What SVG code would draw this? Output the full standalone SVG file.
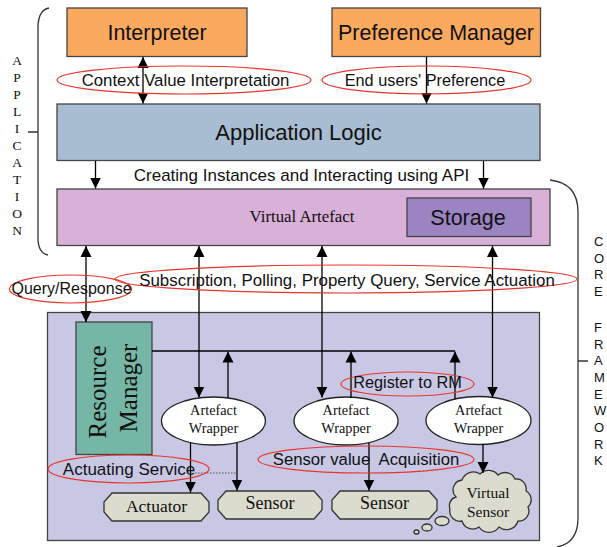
<svg xmlns="http://www.w3.org/2000/svg" width="607" height="547" viewBox="0 0 607 547">
<defs>
<marker id="ah" viewBox="0 0 12 12" refX="12" refY="6" markerWidth="11" markerHeight="12" markerUnits="userSpaceOnUse" orient="auto-start-reverse"><path d="M0,0 L12,6 L0,12 z" fill="#000"/></marker>
<style>
.box{stroke:#444;stroke-width:1.3}
.sans{font-family:"Liberation Sans",Arial,sans-serif;fill:#111}
.serif{font-family:"Liberation Serif","Times New Roman",serif;fill:#111}
.lbl{fill:none;stroke:#E8352B;stroke-width:1.2}
.ln{stroke:#000;stroke-width:1.3;fill:none}
.arr{stroke:#000;stroke-width:1.3;fill:none;marker-end:url(#ah)}
.arr2{stroke:#000;stroke-width:1.3;fill:none;marker-end:url(#ah);marker-start:url(#ah)}
.brace{stroke:#333;stroke-width:1.3;fill:none}
.chip{fill:#DCDCCE;stroke:#333;stroke-width:1.3}
</style>
</defs>
<rect width="607" height="547" fill="#fff"/>

<g id="application-brace">
<path class="brace" d="M49 8 Q38 10 38 28 L38 238 Q38 253 48 255 M28 132 L38 132"/>
<g class="serif" font-size="13.5" text-anchor="middle">
<text x="17" y="65">A</text><text x="17" y="82">P</text><text x="17" y="99">P</text><text x="17" y="116">L</text><text x="17" y="133">I</text><text x="17" y="150">C</text><text x="17" y="167">A</text><text x="17" y="184">T</text><text x="17" y="201">I</text><text x="17" y="218">O</text><text x="17" y="235">N</text>
</g>
</g>

<g id="core-framework-brace">
<path class="brace" d="M550 180 Q578 183 578 212 L578 518 Q578 543 557 547 M578 361 L588 361"/>
<g class="sans" font-size="13">
<text x="594" y="246">C</text><text x="594" y="263">O</text><text x="594" y="279">R</text><text x="594" y="296">E</text>
<text x="594" y="332">F</text><text x="594" y="349">R</text><text x="594" y="365">A</text><text x="594" y="382">M</text><text x="594" y="399">E</text><text x="594" y="415">W</text><text x="594" y="432">O</text><text x="594" y="449">R</text><text x="594" y="465">K</text>
</g>
</g>

<g id="lower-layer">
<rect class="box" x="47.5" y="312.5" width="492" height="228" fill="#C8C8E5"/>
</g>

<g id="interpreter">
<rect class="box" x="67" y="8" width="180" height="48.5" fill="#FAAA5F"/>
<text class="sans" x="157" y="40" font-size="21.5" text-anchor="middle">Interpreter</text>
</g>
<g id="preference-manager">
<rect class="box" x="332" y="8" width="208.5" height="48.5" fill="#FAAA5F"/>
<text class="sans" x="436" y="40" font-size="21.5" text-anchor="middle">Preference Manager</text>
</g>
<g id="application-logic">
<rect class="box" x="57" y="104" width="483" height="56.5" fill="#A9BDD2"/>
<text class="sans" x="298.5" y="140" font-size="22" text-anchor="middle">Application Logic</text>
</g>
<g id="virtual-artefact">
<rect class="box" x="57" y="189" width="493" height="56.5" fill="#D8B0D8"/>
<text class="serif" x="302" y="222" font-size="16.8" text-anchor="middle">Virtual Artefact</text>
</g>
<g id="storage">
<rect class="box" x="407" y="198" width="124" height="38.5" fill="#9C83C2"/>
<text class="sans" x="468" y="225" font-size="21.5" text-anchor="middle">Storage</text>
</g>
<g id="resource-manager">
<rect class="box" x="76" y="322" width="76" height="132.5" fill="#76B6A6"/>
<text class="serif" font-size="25" text-anchor="middle" transform="translate(106 392) rotate(-90)">Resource</text>
<text class="serif" font-size="25" text-anchor="middle" transform="translate(137 388) rotate(-90)">Manager</text>
</g>
<g id="artefact-wrapper-1">
<ellipse cx="213.5" cy="421" rx="52" ry="24" fill="#fff" stroke="#222" stroke-width="1.3"/>
<text class="serif" x="213.5" y="415" font-size="14.3" text-anchor="middle">Artefact</text>
<text class="serif" x="213.5" y="433" font-size="14.3" text-anchor="middle">Wrapper</text>
</g>
<g id="artefact-wrapper-2">
<ellipse cx="346" cy="421" rx="52" ry="24" fill="#fff" stroke="#222" stroke-width="1.3"/>
<text class="serif" x="346" y="415" font-size="14.3" text-anchor="middle">Artefact</text>
<text class="serif" x="346" y="433" font-size="14.3" text-anchor="middle">Wrapper</text>
</g>
<g id="artefact-wrapper-3">
<ellipse cx="478.5" cy="420.5" rx="52.5" ry="24" fill="#fff" stroke="#222" stroke-width="1.3"/>
<text class="serif" x="478.5" y="415" font-size="14.3" text-anchor="middle">Artefact</text>
<text class="serif" x="478.5" y="433" font-size="14.3" text-anchor="middle">Wrapper</text>
</g>
<g id="actuator">
<polygon class="chip" points="112,493 201,493 209,502 209,512 201,521 112,521 104,512 104,502"/>
<text class="serif" x="156.5" y="512" font-size="17.5" text-anchor="middle">Actuator</text>
</g>
<g id="sensor-1">
<polygon class="chip" points="226,491 314,491 322,500 322,510 314,519 226,519 218,510 218,500"/>
<text class="serif" x="270" y="509" font-size="18" text-anchor="middle">Sensor</text>
</g>
<g id="sensor-2">
<polygon class="chip" points="340,491 429,491 437,500 437,510 429,519 340,519 332,510 332,500"/>
<text class="serif" x="384.5" y="509" font-size="18" text-anchor="middle">Sensor</text>
</g>
<g id="virtual-sensor">
<path class="chip" d="M456 497 a10 10 0 0 1 6 -17 a12 12 0 0 1 18 -6 a12 12 0 0 1 18 1 a11 11 0 0 1 17 4 a10 10 0 0 1 11 12 a10 10 0 0 1 2 16 a10 10 0 0 1 -10 14 a12 12 0 0 1 -19 6 a12 12 0 0 1 -20 0 a11 11 0 0 1 -17 -6 a10 10 0 0 1 -12 -12 a9 9 0 0 1 6 -12 z"/>
<ellipse class="chip" cx="442" cy="521" rx="7" ry="4.5"/>
<ellipse class="chip" cx="427" cy="527.5" rx="5" ry="3.5"/>
<ellipse class="chip" cx="416.5" cy="532" rx="2.5" ry="2" stroke-width="1"/>
<text class="serif" x="488" y="498" font-size="15.5" text-anchor="middle">Virtual</text>
<text class="serif" x="488" y="517" font-size="15.5" text-anchor="middle">Sensor</text>
</g>

<g id="connectors">
<line class="arr2" x1="143" y1="57" x2="143" y2="103.5"/>
<line class="arr" x1="426.5" y1="57" x2="426.5" y2="103.5"/>
<line class="arr" x1="95.5" y1="161" x2="95.5" y2="188.5"/>
<line class="arr" x1="483.5" y1="161" x2="483.5" y2="188.5"/>
<line class="arr2" x1="86" y1="246" x2="86" y2="322"/>
<line class="arr2" x1="199" y1="246" x2="199" y2="397.5"/>
<line class="arr2" x1="322" y1="246" x2="322" y2="397.5"/>
<line class="arr2" x1="492.5" y1="246" x2="492.5" y2="397.5"/>
<line class="ln" x1="152" y1="351" x2="455" y2="351"/>
<line class="arr" x1="228" y1="398" x2="228" y2="351.5"/>
<line class="arr" x1="351" y1="398" x2="351" y2="351.5"/>
<line class="arr" x1="455" y1="399" x2="455" y2="351.5"/>
<line class="arr" x1="190.5" y1="443" x2="190.5" y2="492.5"/>
<line class="arr" x1="237" y1="443" x2="237" y2="490.5"/>
<line class="arr" x1="369" y1="443" x2="369" y2="490.5"/>
<line class="arr" x1="483" y1="444" x2="483" y2="473"/>
<line x1="195" y1="473" x2="237" y2="473" stroke="#555" stroke-width="1" stroke-dasharray="1.5 1.5"/>
</g>

<g id="labels">
<ellipse class="lbl" cx="184" cy="80" rx="127" ry="14"/>
<text class="sans" x="185.5" y="86" font-size="16.8" text-anchor="middle">Context Value Interpretation</text>
<ellipse class="lbl" cx="426.5" cy="80" rx="104.5" ry="14"/>
<text class="sans" x="425" y="86" font-size="16.3" text-anchor="middle">End users' Preference</text>
<text class="sans" x="301.5" y="181" font-size="17" text-anchor="middle">Creating Instances and Interacting using API</text>
<ellipse class="lbl" cx="70.5" cy="289" rx="61" ry="14"/>
<text class="sans" x="71.5" y="294" font-size="16" text-anchor="middle">Query/Response</text>
<ellipse class="lbl" cx="346" cy="279" rx="231" ry="14"/>
<text class="sans" x="347" y="286" font-size="16.9" text-anchor="middle">Subscription, Polling, Property Query, Service Actuation</text>
<ellipse class="lbl" cx="407.5" cy="384" rx="66.5" ry="12"/>
<text class="sans" x="407.5" y="388" font-size="16.3" text-anchor="middle">Register to RM</text>
<ellipse class="lbl" cx="128.5" cy="469" rx="80.5" ry="14"/>
<text class="sans" x="129" y="475" font-size="17" text-anchor="middle">Actuating Service</text>
<ellipse class="lbl" cx="366" cy="459.5" rx="108" ry="13.5"/>
<text class="sans" x="366" y="465" font-size="16.7" text-anchor="middle" style="white-space:pre">Sensor value  Acquisition</text>
</g>
</svg>
